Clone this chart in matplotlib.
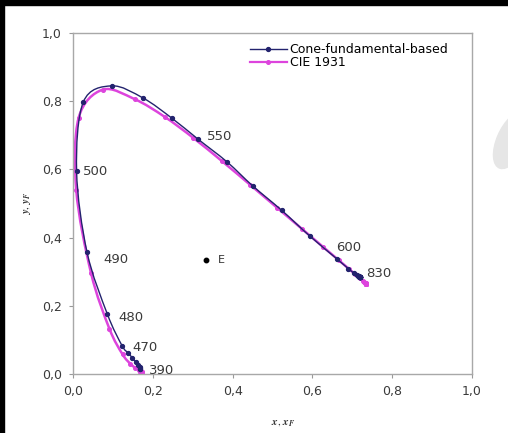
import numpy as np
import matplotlib.pyplot as plt
from matplotlib.patches import Rectangle, PathPatch, Ellipse
from matplotlib.path import Path
from matplotlib.lines import Line2D

plt.rcParams['font.family'] = ['DejaVu Sans']
plt.rcParams['mathtext.fontset'] = 'stix'

# CIE 1931 spectral locus, 380-780 nm every 10 nm
cie_x = [0.1741, 0.1738, 0.1733, 0.1726, 0.1714, 0.1689, 0.1644, 0.1566, 0.1440, 0.1241,
         0.0913, 0.0454, 0.0082, 0.0139, 0.0743, 0.1547, 0.2296, 0.3016, 0.3731, 0.4441,
         0.5125, 0.5752, 0.6270, 0.6658, 0.6915, 0.7079, 0.7190, 0.7260, 0.7300, 0.7320,
         0.7334, 0.7344, 0.7347, 0.7347, 0.7347, 0.7347, 0.7347, 0.7347, 0.7347, 0.7347, 0.7347]
cie_y = [0.0050, 0.0049, 0.0048, 0.0048, 0.0051, 0.0069, 0.0109, 0.0177, 0.0297, 0.0578,
         0.1327, 0.2950, 0.5384, 0.7502, 0.8338, 0.8059, 0.7543, 0.6923, 0.6245, 0.5547,
         0.4866, 0.4242, 0.3725, 0.3340, 0.3083, 0.2920, 0.2809, 0.2740, 0.2700, 0.2680,
         0.2666, 0.2656, 0.2653, 0.2653, 0.2653, 0.2653, 0.2653, 0.2653, 0.2653, 0.2653, 0.2653]

# cone-fundamental-based locus, 390-830 nm every 10 nm
cf_x = [0.168, 0.169, 0.169, 0.167, 0.163, 0.157, 0.149, 0.138, 0.123, 0.086,
        0.035, 0.009, 0.026, 0.097, 0.176, 0.248, 0.313, 0.386, 0.451, 0.523,
        0.593, 0.662, 0.690, 0.704, 0.711, 0.715, 0.717, 0.718, 0.719, 0.719,
        0.719, 0.719, 0.719, 0.719, 0.719, 0.719, 0.719, 0.719, 0.719, 0.719,
        0.719, 0.719, 0.719, 0.719, 0.719]
cf_y = [0.016, 0.016, 0.017, 0.020, 0.026, 0.035, 0.047, 0.062, 0.083, 0.176,
        0.358, 0.595, 0.798, 0.845, 0.809, 0.750, 0.689, 0.622, 0.551, 0.480,
        0.405, 0.337, 0.309, 0.296, 0.290, 0.287, 0.286, 0.285, 0.285, 0.285,
        0.285, 0.285, 0.285, 0.285, 0.285, 0.285, 0.285, 0.285, 0.285, 0.285,
        0.285, 0.285, 0.285, 0.285, 0.285]

wl_labels = ['390', '470', '480', '490', '500', '550', '600', '830']
wl_lx = [0.19, 0.15, 0.113, 0.075, 0.025, 0.336, 0.66, 0.735]
wl_ly = [0.010, 0.077, 0.167, 0.337, 0.593, 0.695, 0.372, 0.296]

E_x, E_y = 1/3, 1/3

CF_COL = '#23236e'
CIE_COL = '#dd44dd'


def smooth_path(xs, ys):
    # Excel-style smoothed line: cubic Bezier segments through the points
    p = np.column_stack([xs, ys]).astype(float)
    n = len(p)
    verts = [p[0]]
    codes = [Path.MOVETO]
    for i in range(n - 1):
        p0 = p[max(i - 1, 0)]
        p1 = p[i]
        p2 = p[i + 1]
        p3 = p[min(i + 2, n - 1)]
        c1 = p1 + (p2 - p0) / 6
        c2 = p2 - (p3 - p1) / 6
        verts += [c1, c2, p2]
        codes += [Path.CURVE4] * 3
    return Path(verts, codes)


fig = plt.figure(figsize=(5.08, 4.33), dpi=100)
ax = fig.add_axes([0.1437, 0.1363, 0.7854, 0.7875])

ax.add_patch(PathPatch(smooth_path(cie_x, cie_y), fill=False, edgecolor=CIE_COL,
                       lw=1.8, zorder=2))
ax.plot(cie_x, cie_y, ls='none', marker='o', ms=2.6, color=CIE_COL, zorder=2)
ax.add_patch(PathPatch(smooth_path(cf_x, cf_y), fill=False, edgecolor=CF_COL,
                       lw=1.0, zorder=3))
ax.plot(cf_x, cf_y, ls='none', marker='o', ms=2.8, color=CF_COL, zorder=3)
ax.plot([E_x], [E_y], 'o', color='black', ms=3.2, zorder=4)
ax.text(E_x + 0.03, E_y, 'E', fontsize=8, color='#333333', va='center')

for t, lx, ly in zip(wl_labels, wl_lx, wl_ly):
    ax.text(lx, ly, t, fontsize=9.5, color='#3a3a3a', va='center', ha='left')

ax.set_xlim(0, 1)
ax.set_ylim(0, 1)
ticks = [0, 0.2, 0.4, 0.6, 0.8, 1.0]
tick_lbl = ['0,0', '0,2', '0,4', '0,6', '0,8', '1,0']
ax.set_xticks(ticks)
ax.set_xticklabels(tick_lbl)
ax.set_yticks(ticks)
ax.set_yticklabels(tick_lbl)
ax.tick_params(length=3, width=0.8, color='#999999', labelcolor='#3a3a3a',
               labelsize=9, pad=5)
for s in ax.spines.values():
    s.set_color('#a8a8a8')
    s.set_linewidth(1)

ax.set_xlabel(r'$\mathbfit{x},\, \mathbfit{x}_\mathbfit{F}$', fontsize=8, color='#333333')
ax.set_ylabel(r'$\mathbfit{y},\, \mathbfit{y}_\mathbfit{F}$', fontsize=8, color='#333333')
ax.xaxis.set_label_coords(0.526, -0.128)
ax.yaxis.set_label_coords(-0.10, 0.5)

handles = [Line2D([], [], color=CF_COL, lw=1.0, marker='o', ms=2.8),
           Line2D([], [], color=CIE_COL, lw=1.6, marker='o', ms=2.6)]
ax.legend(handles, ['Cone-fundamental-based', 'CIE 1931'], loc='upper left',
          bbox_to_anchor=(0.43, 0.985), frameon=False, fontsize=9,
          handlelength=3.0, handletextpad=0.2, labelspacing=0.0, borderaxespad=0)

# faint watermark at the right edge
fig.patches.append(Ellipse((512/508, 1 - 140/433), 30/508, 60/433, angle=-20,
                           transform=fig.transFigure, color='#e6e6e6', zorder=0))

# dark scan border on top and left
fig.patches.append(Rectangle((0, 1 - 5/433), 1, 5/433, transform=fig.transFigure,
                             color='black', zorder=10))
fig.patches.append(Rectangle((0, 0), 4/508, 1, transform=fig.transFigure,
                             color='black', zorder=10))

fig.savefig('out.png', dpi=100)
